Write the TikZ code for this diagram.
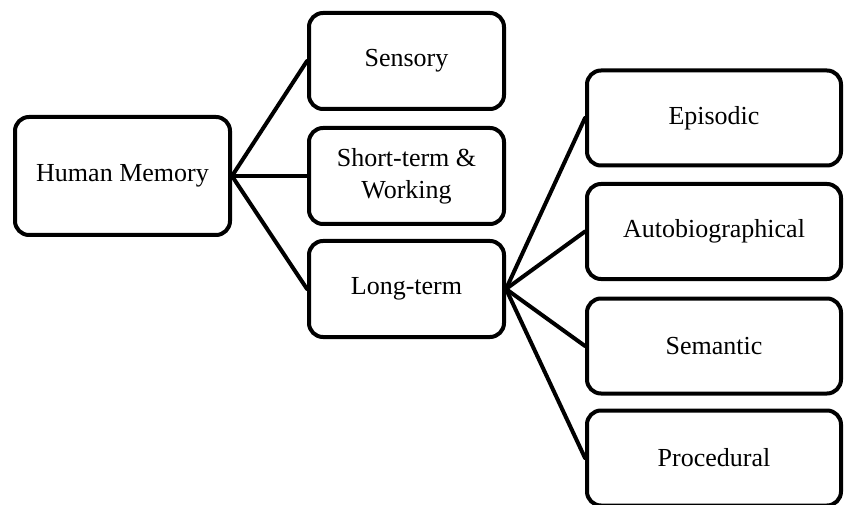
\documentclass[tikz,border=0pt]{standalone}
\usepackage{fontspec}
\setmainfont{Liberation Serif}
\usetikzlibrary{positioning}

\tikzset{
  membox/.style={draw=black, line width=4pt, rounded corners=14pt, fill=white,
    align=center, inner sep=2pt, font=\fontsize{26}{32}\selectfont},
  rootbox/.style={membox, minimum width=215pt, minimum height=118pt},
  midbox/.style={membox, minimum width=195pt, minimum height=96pt},
  leafbox/.style={membox, minimum width=254pt, minimum height=95pt},
  branch/.style={line width=4pt, line cap=round}
}

\begin{document}
\begin{tikzpicture}[x=1pt,y=-1pt]
\useasboundingbox (0,0) rectangle (846,505);
\clip (0,0) rectangle (846,505);

% Root of the tree.
\node[rootbox] (human) at (122.5,176) {Human Memory};

% Three main kinds of memory.
\node[midbox] (sensory) at (406.5,61) {Sensory};
\node[midbox] (short) at (406.5,176) {Short-term \&\\Working};
\node[midbox] (long) at (406.5,289) {Long-term};

% Kinds of long-term memory.
\node[leafbox] (episodic) at (714,118) {Episodic};
\node[leafbox] (autobio) at (714,231.5) {Autobiographical};
\node[leafbox] (semantic) at (714,346) {Semantic};
\node[leafbox] (procedural) at (714,458) {Procedural};

% Connect the levels.
\foreach \kind in {sensory,short,long}
  \draw[branch] (human.east) -- (\kind.west);

\foreach \kind in {episodic,autobio,semantic,procedural}
  \draw[branch] (long.east) -- (\kind.west);

\end{tikzpicture}
\end{document}
